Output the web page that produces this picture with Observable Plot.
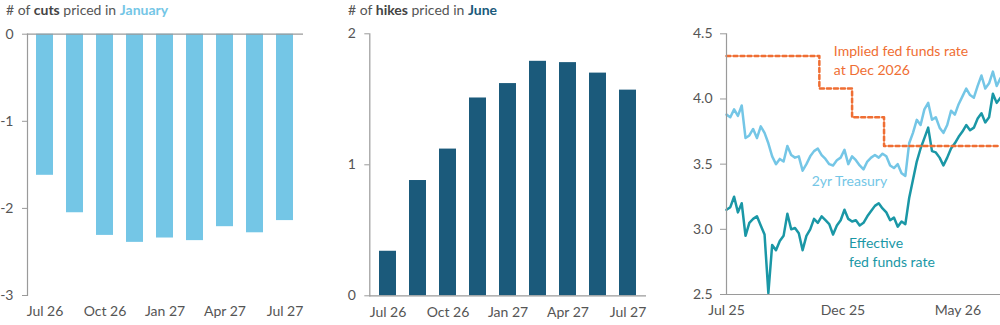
<!DOCTYPE html>
<html><head><meta charset="utf-8">
<script src="https://cdn.jsdelivr.net/npm/d3@7"></script>
<script src="https://cdn.jsdelivr.net/npm/@observablehq/plot@0.6"></script>
<style>
body{margin:0;background:#fff;font-family:Lato,"Open Sans",sans-serif;}
#wrap{position:relative;width:1000px;height:325px;overflow:hidden;background:#fff}
.panel{position:absolute;top:0}
.title{position:absolute;top:1px;font-size:14px;color:#555;white-space:nowrap;font-family:Lato,sans-serif}
.title b{font-weight:700;color:#444}
</style></head>
<body><div id="wrap">
<div class="panel" id="p1" style="left:0px"></div>
<div class="panel" id="p2" style="left:335px"></div>
<div class="panel" id="p3" style="left:680px"></div>
<div class="title" style="left:6px"># of <b>cuts</b> priced in <b style="color:#74C6E6">January</b></div>
<div class="title" style="left:348px"># of <b>hikes</b> priced in <b style="color:#1B5A7B">June</b></div>
</div>
<script>
// ---- Data ----
const meetings = ["Jul 26","Sep 26","Oct 26","Dec 26","Jan 27","Mar 27","Apr 27","Jun 27","Jul 27"];
const meetingTicks = ["Jul 26","Oct 26","Jan 27","Apr 27","Jul 27"];
const cutsJanuary = [-1.62,-2.05,-2.31,-2.39,-2.34,-2.37,-2.21,-2.28,-2.14];
const hikesJune = [0.34,0.88,1.12,1.51,1.62,1.79,1.78,1.70,1.57];
const cutTicks = [-3,-2,-1,0];
const hikeTicks = [0,1,2];

const seriesStart = "2025-07-01";
const stepDays = 5;
const treasury2y = [3.88,3.86,3.92,3.87,3.95,3.70,3.72,3.77,3.70,3.79,
  3.74,3.66,3.56,3.50,3.54,3.52,3.64,3.57,3.55,3.56,
  3.45,3.50,3.56,3.60,3.62,3.57,3.54,3.50,3.49,3.53,
  3.55,3.61,3.50,3.56,3.53,3.49,3.46,3.52,3.55,3.57,
  3.55,3.58,3.56,3.49,3.47,3.50,3.43,3.41,3.66,3.74,
  3.84,3.80,3.92,3.97,3.84,3.86,3.78,3.74,3.80,3.91,
  3.88,3.96,4.02,4.08,4.03,4.01,4.10,4.18,4.08,4.12,
  4.21,4.10,4.16];
const effFedFunds = [3.15,3.17,3.25,3.13,3.20,2.95,3.05,3.08,3.10,3.03,
  2.96,2.51,2.88,2.84,2.91,2.95,3.12,3.00,3.01,2.97,
  2.84,2.95,3.00,3.08,3.05,3.10,3.07,3.04,2.96,3.03,
  3.07,3.15,3.08,3.06,3.07,3.03,3.05,3.10,3.14,3.18,
  3.20,3.16,3.13,3.07,3.09,3.02,3.06,3.04,3.24,3.38,
  3.52,3.62,3.70,3.78,3.60,3.59,3.55,3.49,3.55,3.62,
  3.66,3.71,3.75,3.80,3.76,3.78,3.85,3.89,3.82,3.86,
  4.04,3.97,4.01];
const impliedDates = ["2025-07-01","2025-10-31","2025-12-13","2026-01-24","2026-06-26"];
const impliedRate = [4.33,4.08,3.86,3.64,3.64];
const rateTicks = [2.5,3.0,3.5,4.0,4.5];
const dateTicks = ["2025-07-01","2025-12-01","2026-05-01"];

const labelText = ["Implied fed funds rate","at Dec 2026","2yr Treasury","Effective","fed funds rate"];
const labelDates = ["2025-11-19","2025-11-19","2025-10-21","2025-12-09","2025-12-09"];
const labelValues = [4.367,4.219,3.365,2.888,2.745];

// ---- Colors ----
const lightBlue = "#74C6E6", darkBlue = "#1B5A7B", teal = "#1A97A6", orange = "#EF6E33";
const axisGray = "#9a9a9a", textGray = "#555";
const font = {fontFamily:"Lato, sans-serif", fontSize:"14px", background:"transparent", overflow:"visible"};
const plainNum = d => String(d);

const barData1 = meetings.map((m,i)=>({m, v:cutsJanuary[i]}));
const barData2 = meetings.map((m,i)=>({m, v:hikesJune[i]}));
const parse = d3.utcParse("%Y-%m-%d");
const t0 = parse(seriesStart);
const lineData = treasury2y.map((v,i)=>({date:d3.utcDay.offset(t0,i*stepDays), t:v, e:effFedFunds[i]}));
const impliedData = impliedDates.map((d,i)=>({date:parse(d), v:impliedRate[i]}));
const labels = labelText.map((s,i)=>({s, date:parse(labelDates[i]), v:labelValues[i]}));
const labelColors = [orange,orange,lightBlue,teal,teal];

// ---- Panel 1 ----
const p1 = Plot.plot({
  width:320, height:325, marginTop:33.7, marginBottom:30, marginLeft:27, marginRight:17,
  style:font,
  x:{domain:meetings, paddingInner:0.43, paddingOuter:0.21},
  y:{domain:[-3,0]},
  marks:[
    Plot.barY(barData1,{x:"m", y:"v", fill:lightBlue}),
    Plot.ruleY([0],{stroke:axisGray, strokeWidth:1.2}),
    Plot.frame({anchor:"left", stroke:axisGray, strokeWidth:1.2}),
    Plot.axisY({ticks:cutTicks, tickFormat:plainNum, tickSize:5, tickPadding:9, stroke:axisGray, fill:textGray, label:null}),
    Plot.axisX({ticks:meetingTicks, tickSize:0, tickPadding:11, fill:textGray, label:null})
  ]
});
document.getElementById("p1").append(p1);

// ---- Panel 2 ----
const p2 = Plot.plot({
  width:320, height:325, marginTop:33.3, marginBottom:29.7, marginLeft:34.3, marginRight:9,
  style:font,
  x:{domain:meetings, paddingInner:0.43, paddingOuter:0.21},
  y:{domain:[0,2]},
  marks:[
    Plot.barY(barData2,{x:"m", y:"v", fill:darkBlue}),
    Plot.ruleY([0],{stroke:axisGray, strokeWidth:1.2}),
    Plot.frame({anchor:"left", stroke:axisGray, strokeWidth:1.2}),
    Plot.axisY({ticks:hikeTicks, tickFormat:plainNum, tickSize:5, tickPadding:9, stroke:axisGray, fill:textGray, label:null}),
    Plot.axisX({ticks:meetingTicks, tickSize:0, tickPadding:11, fill:textGray, label:null})
  ]
});
document.getElementById("p2").append(p2);

// ---- Panel 3 ----
const p3 = Plot.plot({
  width:320, height:325, marginTop:33.3, marginBottom:31, marginLeft:46, marginRight:0,
  style:font,
  x:{type:"utc", domain:[t0, parse("2026-06-26")]},
  y:{domain:[2.5,4.5]},
  marks:[
    Plot.line(lineData,{x:"date", y:"t", stroke:lightBlue, strokeWidth:2.5}),
    Plot.line(lineData,{x:"date", y:"e", stroke:teal, strokeWidth:2.5}),
    Plot.line(impliedData,{x:"date", y:"v", curve:"step-after", stroke:orange, strokeWidth:2.5, strokeDasharray:"4,3"}),
    Plot.text(labels,{x:"date", y:"v", text:"s", fill:(d,i)=>labelColors[i], textAnchor:"start", fontSize:14}),
    Plot.ruleY([2.5],{stroke:axisGray, strokeWidth:1.2}),
    Plot.frame({anchor:"left", stroke:axisGray, strokeWidth:1.2}),
    Plot.axisY({ticks:rateTicks, tickFormat:d3.format(".1f"), tickSize:6, tickPadding:8, stroke:axisGray, fill:textGray, label:null}),
    Plot.axisX({ticks:dateTicks.map(parse), tickFormat:d3.utcFormat("%b %y"), tickSize:0, tickPadding:11, fill:textGray, label:null})
  ]
});
document.getElementById("p3").append(p3);
</script>
</body></html>
